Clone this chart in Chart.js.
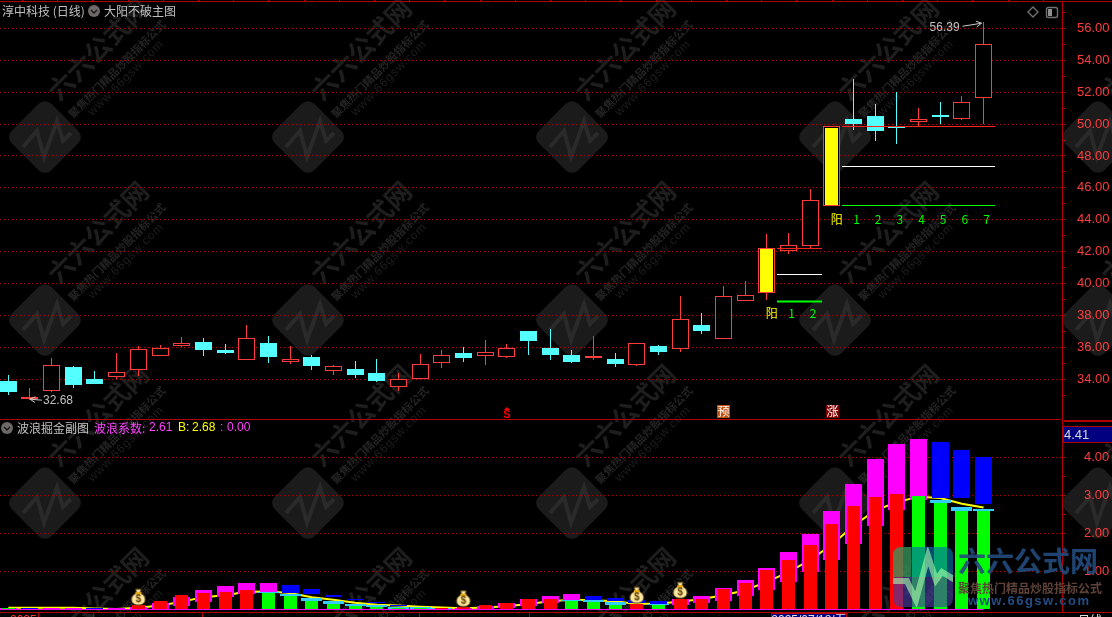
<!DOCTYPE html>
<html>
<head>
<meta charset="utf-8">
<title>淳中科技 (日线)</title>
<script src="https://cdn.jsdelivr.net/npm/chart.js@4"></script>
<style>
  html, body { margin: 0; background: #000; overflow: hidden; }
  canvas { display: block; }
</style>
</head>
<body>
<canvas id="chart" width="1112" height="617"></canvas>
<script>
// daily candles, left to right
const opens = [33.88,32.75,33.27,34.76,34.01,34.15,34.6,35.48,36.1,36.34,35.83,35.22,36.27,35.1,35.39,34.53,34.64,34.39,33.51,33.99,35.04,35.64,35.48,35.41,37.03,35.96,35.52,35.33,35.27,34.91,36.08,35.92,37.4,36.55,38.92,39.42,42.05,42.37,44.88,50.35,50.5,49.83,50.15,50.56,50.33,51.65];
const highs = [34.26,33.42,35.33,34.83,34.51,35.64,36.06,36.15,36.65,36.59,36.21,37.4,36.71,36.08,35.52,34.89,35.14,35.27,34.39,35.58,35.83,36.02,36.46,36.21,37.03,37.15,35.83,36.71,35.64,36.25,36.15,39.23,38.16,39.86,40.15,43.1,43.14,45.92,49.85,52.82,51.25,52,51,51.38,51.76,56.39];
const lows = [33,32.68,33.21,33.46,33.69,34.03,34.22,35.48,36.04,35.48,35.58,35.22,35.01,34.95,34.57,34.26,34.07,33.82,33.25,33.99,34.7,35.08,34.89,35.33,35.52,35.2,35.01,35.2,34.76,34.83,35.52,35.71,36.84,36.55,38.92,38.96,41.85,42.14,44.88,49.62,48.93,48.75,49.85,50,50.25,50];
const closes = [33.21,32.88,34.87,33.63,33.69,34.43,35.87,35.94,36.25,35.83,35.64,36.57,35.39,35.25,34.83,34.8,34.26,33.88,33.99,34.95,35.5,35.33,35.69,35.94,36.4,35.52,35.08,35.45,34.95,36.25,35.71,37.76,37.03,39.21,39.25,42.2,42.39,45.27,49.85,50,49.58,49.75,50.35,50.44,51.36,55];

// big sun candles (inner fill) and their support levels
const sunIdx = [35, 38];
const sunLo = [39.45, 44.94];
const sunHi = [42.15, 49.78];
const levelFrom = [35.47, 38.47];
const levelTo = [37.55, 45.53];
const levelTop = [42.2, 49.85];
const levelMid = [40.57, 47.34];
const levelLow = [38.9, 44.9];

// count labels under the sun candles
const countIdx = [35,36,37,38,39,40,41,42,43,44,45];
const countText = ['阳','1','2','阳','1','2','3','4','5','6','7'];
const countPrice = [38.15,38.15,38.15,44.05,44.05,44.05,44.05,44.05,44.05,44.05,44.05];

// high / low notes
const noteIdx = [45, 1];
const noteVal = [56.39, 32.68];

// signal stamps along the bottom of the price pane
const stampIdx = [23, 33, 38];
const stampText = ['S', '预', '涨'];

// wave indicator panel
const waveBar = [0.03,0,0,0,0,0,0.105,0.21,0.37,0.43,0.45,0.5,0.43,0.34,0.22,0.13,0.08,0.06,0.02,0.01,0.01,0.05,0.105,0.16,0.26,0.26,0.22,0.18,0.105,0.13,0.105,0.26,0.26,0.53,0.69,1.03,1.29,1.68,2.24,2.71,2.95,3.03,2.97,2.79,2.59,2.58];
const wideLo = [0,0,0,0,0,0,0,0.02,0.08,0.19,0.32,0.39,0.45,0.44,0.39,0.32,0.24,0.16,0.1,0.03,0.02,0,0,0.035,0.09,0.16,0.24,0.24,0.21,0.16,0.13,0.105,0.16,0.23,0.34,0.5,0.71,0.97,1.29,1.71,2.18,2.61,2.87,2.92,2.92,2.76];
const wideHi = [0.02,0.015,0.015,0.015,0.01,0.02,0.07,0.17,0.33,0.5,0.61,0.68,0.68,0.63,0.53,0.37,0.26,0.18,0.12,0.05,0.03,0.04,0.1,0.16,0.26,0.34,0.39,0.34,0.29,0.24,0.21,0.26,0.34,0.55,0.76,1.1,1.5,1.97,2.58,3.29,3.95,4.34,4.47,4.39,4.18,4];
const capIdx = [12,13,14,15,16,17,18,19,20,26,27,28,30,43,44,45];
const capLo = [0.43,0.34,0.22,0.13,0.08,0.06,0.02,0.01,0.01,0.22,0.18,0.105,0.105,2.79,2.58,2.58];
const capHi = [0.45,0.39,0.29,0.21,0.13,0.11,0.07,0.05,0.03,0.24,0.24,0.18,0.13,2.87,2.68,2.63];
const lineB = [0.04,0.04,0.04,0.04,0.02,0.01,0.04,0.1,0.2,0.32,0.37,0.46,0.47,0.43,0.32,0.25,0.17,0.12,0.1,0.07,0.05,0.03,0.05,0.08,0.14,0.21,0.25,0.24,0.21,0.14,0.15,0.2,0.27,0.37,0.5,0.72,0.98,1.3,1.7,2.2,2.6,2.82,2.96,2.93,2.78,2.68];
const bagIdx = [6, 21, 29, 31];
const bagVal = [0.32, 0.28, 0.37, 0.5];

const idx = opens.map((_, i) => i);
const RED = '#ff3c3c';
const CYAN = '#54ffff';
const DARKRED = '#b00000';
const UI = '"Liberation Sans", "Noto Sans CJK SC", sans-serif';
const CJK = '"Noto Sans CJK SC", "Liberation Sans", sans-serif';

function bars(values, lo, hi) {
  return values.map((x, i) => ({ x: x, y: [lo[i], hi[i]] }));
}

function moneyBag() {
  const c = document.createElement('canvas');
  c.width = 16; c.height = 18;
  const g = c.getContext('2d');
  g.fillStyle = '#ffe9a0'; g.strokeStyle = '#4a3a10'; g.lineWidth = 1;
  g.beginPath();
  g.moveTo(5, 1); g.lineTo(11, 1); g.lineTo(9.5, 5);
  g.bezierCurveTo(17, 7, 17, 17, 8, 17);
  g.bezierCurveTo(-1, 17, -1, 7, 6.5, 5);
  g.closePath(); g.fill(); g.stroke();
  g.fillStyle = '#e8a800'; g.fillRect(5, 4, 6, 2);
  g.fillStyle = '#5a3c00'; g.font = 'bold 10px ' + UI;
  g.textAlign = 'center'; g.textBaseline = 'middle';
  g.fillText('$', 8, 11.5);
  return c;
}

function tile(ctx, cx, cy) {
  ctx.save();
  ctx.translate(cx, cy);
  ctx.rotate(-Math.PI / 4);
  ctx.fillStyle = '#1b1b1b';
  ctx.beginPath();
  ctx.roundRect(-28, -28, 56, 56, 9);
  ctx.fill();
  ctx.rotate(Math.PI / 4);
  ctx.strokeStyle = '#2a2a2a';
  ctx.lineWidth = 4;
  ctx.beginPath();
  ctx.moveTo(-22, 10); ctx.lineTo(-8, -6); ctx.lineTo(-1, 20);
  ctx.lineTo(12, -16); ctx.lineTo(18, 4); ctx.lineTo(26, -4);
  ctx.stroke();
  ctx.restore();

  const rotText = (text, dx, dy, font, color, spacing) => {
    ctx.save();
    ctx.translate(cx + dx, cy + dy);
    ctx.rotate(-Math.PI / 4);
    ctx.font = font;
    ctx.fillStyle = color;
    ctx.textAlign = 'center';
    ctx.textBaseline = 'middle';
    ctx.letterSpacing = spacing || '0px';
    ctx.fillText(text, 0, 0);
    ctx.restore();
  };
  rotText('六六公式网', 53, -88, 'bold 26px ' + CJK, '#1e1e1e');
  rotText('聚焦热门精品炒股指标公式', 72, -68, 'bold 11px ' + CJK, '#242424');
  rotText('www.66gsw.com', 81, -59, '12px ' + UI, '#1e1e1e', '1px');
}

// keep marks on whole pixels, the original terminal draws without smoothing
const snapPlugin = {
  id: 'snap',
  afterDatasetsUpdate(chart) {
    chart.data.datasets.forEach((ds, d) => {
      const meta = chart.getDatasetMeta(d);
      meta.data.forEach(el => {
        if (meta.type === 'bar') {
          el.x = Math.floor(el.x) + 0.5;
          if (el.y !== el.base) {
            let top = Math.round(el.y);
            const base = Math.round(el.base);
            if (top === base) top = base - 1;
            el.y = top;
            el.base = base;
          }
        } else if (ds.snapY) {
          el.y = Math.floor(el.y) + 0.5;
        }
      });
    });
  }
};

const backdropPlugin = {
  id: 'backdrop',
  beforeDraw(chart) {
    const ctx = chart.ctx;
    [45, 308, 572, 835, 1098].forEach(x => {
      [137, 320, 503, 686].forEach(y => tile(ctx, x, y));
    });
  }
};

function text(ctx, str, x, y, color, font, align) {
  ctx.font = font;
  ctx.fillStyle = color;
  ctx.textAlign = align || 'left';
  ctx.textBaseline = 'middle';
  ctx.fillText(str, x, y);
}

function arrow(ctx, x1, y1, x2, y2) {
  const a = Math.atan2(y2 - y1, x2 - x1);
  ctx.strokeStyle = '#c8c8c8';
  ctx.lineWidth = 1;
  ctx.beginPath();
  ctx.moveTo(x1, y1); ctx.lineTo(x2, y2);
  ctx.moveTo(x2 - 6 * Math.cos(a - 0.5), y2 - 6 * Math.sin(a - 0.5));
  ctx.lineTo(x2, y2);
  ctx.lineTo(x2 - 6 * Math.cos(a + 0.5), y2 - 6 * Math.sin(a + 0.5));
  ctx.stroke();
}

function circleIcon(ctx, x, y) {
  ctx.fillStyle = '#6e6868';
  ctx.beginPath(); ctx.arc(x, y, 6, 0, Math.PI * 2); ctx.fill();
  ctx.strokeStyle = '#181818';
  ctx.lineWidth = 1.4;
  ctx.beginPath(); ctx.moveTo(x - 3, y - 1); ctx.lineTo(x, y + 2); ctx.lineTo(x + 3, y - 1); ctx.stroke();
}

const overlayPlugin = {
  id: 'overlay',
  afterDraw(chart) {
    const ctx = chart.ctx;
    const sx = chart.scales.x, sy = chart.scales.y;
    ctx.save();

    // frame
    ctx.fillStyle = DARKRED;
    ctx.fillRect(0, 1, 1112, 1);
    ctx.fillRect(0, 419, 1061, 1);
    ctx.fillRect(0, 612, 1112, 1);
    ctx.fillRect(1064, 420, 48, 2);
    for (let x = 22; x < 1061; x += 35.2) ctx.fillRect(Math.round(x), 0, 1, 1);
    ctx.fillStyle = '#000080';
    ctx.fillRect(1063, 427, 49, 15);
    ctx.strokeStyle = DARKRED;
    ctx.lineWidth = 1;
    ctx.strokeRect(1063.5, 426.5, 49, 16);
    text(ctx, '4.41', 1064, 435, '#d8d8d8', '13px ' + UI);

    // titles
    const cjk12 = '12px ' + CJK;
    const num12 = '12px ' + UI;
    text(ctx, '淳中科技 (日线)', 2, 11, '#c0c0c0', cjk12);
    circleIcon(ctx, 94, 11);
    text(ctx, '大阳不破主图', 104, 11, '#c0c0c0', cjk12);
    circleIcon(ctx, 7, 428);
    text(ctx, '波浪掘金副图', 17, 428, '#c0c0c0', cjk12);
    text(ctx, '波浪系数:', 94, 428, '#ff40ff', cjk12);
    text(ctx, '2.61', 149, 428, '#ff40ff', num12);
    text(ctx, 'B:', 178, 428, '#ffff00', num12);
    text(ctx, '2.68', 192, 428, '#ffff00', num12);
    text(ctx, ':', 220, 428, '#ff40ff', num12);
    text(ctx, '0.00', 227, 428, '#ff40ff', num12);

    // top right buttons
    ctx.strokeStyle = '#707070';
    ctx.beginPath();
    ctx.moveTo(1033, 7); ctx.lineTo(1038, 12); ctx.lineTo(1033, 17); ctx.lineTo(1028, 12); ctx.closePath();
    ctx.stroke();
    ctx.beginPath(); ctx.roundRect(1046.5, 7.5, 11, 10, 2); ctx.stroke();
    ctx.fillStyle = '#909090';
    ctx.fillRect(1048, 9, 4, 7);

    // high / low notes
    noteIdx.forEach((n, i) => {
      const x = sx.getPixelForValue(n), y = sy.getPixelForValue(noteVal[i]);
      if (i === 0) {
        text(ctx, noteVal[i].toFixed(2), x - 54, y + 5, '#c0c0c0', num12);
        arrow(ctx, x - 21, y + 4, x - 2, y + 1);
      } else {
        text(ctx, noteVal[i].toFixed(2), x + 13, y, '#c0c0c0', num12);
        arrow(ctx, x + 12, y, x, y - 1);
      }
    });

    // counts under the sun candles
    countIdx.forEach((n, i) => {
      const isSun = countText[i] === '阳';
      text(ctx, countText[i], sx.getPixelForValue(n) + (isSun ? 5 : 3), sy.getPixelForValue(countPrice[i]),
        isSun ? '#ffff00' : '#00ff00', cjk12, 'center');
    });

    // stamps
    stampIdx.forEach((n, i) => {
      const x = Math.round(sx.getPixelForValue(n));
      if (stampText[i] === 'S') {
        ctx.fillStyle = '#ff0000';
        ctx.beginPath(); ctx.moveTo(x - 3, 410); ctx.lineTo(x, 407); ctx.lineTo(x + 3, 410); ctx.fill();
        text(ctx, 'S', x, 414.5, '#ff0000', 'bold 11px ' + UI, 'center');
      } else {
        ctx.fillStyle = stampText[i] === '预' ? '#c05010' : '#800000';
        ctx.fillRect(x - 6, 405, 13, 13);
        text(ctx, stampText[i], x + 0.5, 411.5, '#ffffff', cjk12, 'center');
      }
    });

    // cursor date and axis row, cut off by the window edge
    ctx.fillStyle = '#000080';
    ctx.fillRect(771, 613, 76, 4);
    ctx.strokeStyle = '#c00000';
    ctx.strokeRect(771.5, 613.5, 75, 5);
    ctx.textBaseline = 'top';
    ctx.font = num12; ctx.textAlign = 'center';
    ctx.fillStyle = '#e0e0e0';
    ctx.fillText('2025/07/18/五', 809, 615);
    ctx.textAlign = 'left';
    ctx.font = cjk12;
    ctx.fillText('日线', 1078, 614);
    ctx.fillStyle = RED;
    ctx.font = num12;
    ctx.fillText('2025', 10, 615);
    ctx.fillStyle = DARKRED;
    [38, 93, 202, 419, 529].forEach(x => ctx.fillRect(x, 613, 1, 4));

    // site logo, bottom right
    ctx.save();
    ctx.beginPath();
    ctx.roundRect(893, 547, 60, 60, 8);
    ctx.clip();
    ctx.fillStyle = 'rgba(0,110,170,0.65)';
    ctx.fillRect(893, 547, 60, 30);
    ctx.fillStyle = 'rgba(70,60,160,0.65)';
    ctx.fillRect(893, 577, 60, 30);
    ctx.fillStyle = 'rgba(120,200,0,0.35)';
    ctx.fillRect(893, 547, 18, 30);
    ctx.strokeStyle = 'rgba(170,255,170,0.6)';
    ctx.lineWidth = 6;
    ctx.beginPath();
    ctx.moveTo(890, 581); ctx.lineTo(907, 581); ctx.lineTo(916, 600); ctx.lineTo(928, 556);
    ctx.lineTo(936, 580); ctx.lineTo(942, 572); ctx.lineTo(955, 580);
    ctx.stroke();
    ctx.restore();
    text(ctx, '六六公式网', 958, 561, 'rgba(35,75,125,0.9)', 'bold 28px ' + CJK);
    text(ctx, '聚焦热门精品炒股指标公式', 958, 588, '#5e4238', 'bold 12px ' + CJK);
    ctx.letterSpacing = '1.5px';
    text(ctx, 'www.66gsw.com', 968, 601, '#254c85', 'bold 13px ' + UI);
    ctx.letterSpacing = '0px';
    ctx.restore();
  }
};

const zeroLine = idx.map(i => ({ x: i, y: 0 }));
zeroLine.unshift({ x: -0.4, y: 0 });

// non grouped bars sit exactly on their x value, maxBarThickness sets the width
function barSet(width, extra) {
  return Object.assign({
    type: 'bar', grouped: false, inflateAmount: 0, borderWidth: 0,
    barThickness: width, maxBarThickness: width
  }, extra);
}
const flatLine = {
  type: 'line', pointRadius: 0, borderWidth: 1, tension: 0, snapY: true, yAxisID: 'y'
};
function levelSet(values, color, order, firstWidth) {
  return values.map((v, i) => Object.assign({}, flatLine, {
    data: [{ x: levelFrom[i], y: v }, { x: levelTo[i], y: v }],
    borderColor: color, order: order,
    borderWidth: i === 0 && firstWidth ? firstWidth : 1
  }));
}

new Chart(document.getElementById('chart'), {
  type: 'bar',
  data: {
    datasets: [
      // price pane
      barSet(1, {
        data: bars(idx, lows, highs), yAxisID: 'y', order: 20,
        backgroundColor: idx.map(i => closes[i] >= opens[i] ? RED : CYAN)
      }),
      barSet(17, {
        borderSkipped: false, borderWidth: 1,
        data: idx.map(i => ({ x: i, y: [Math.min(opens[i], closes[i]), Math.max(opens[i], closes[i])] })),
        yAxisID: 'y', order: 19,
        backgroundColor: idx.map(i => closes[i] >= opens[i] ? '#000000' : CYAN),
        borderColor: idx.map(i => closes[i] >= opens[i] ? RED : CYAN)
      }),
      barSet(13, {
        data: bars(sunIdx, sunLo, sunHi), yAxisID: 'y', order: 18,
        backgroundColor: '#ffff00'
      }),
      ...levelSet(levelTop, '#ff2020', 17),
      ...levelSet(levelMid, '#ffffff', 17),
      ...levelSet(levelLow, '#00ff00', 17, 2),

      // wave pane
      {
        type: 'line', data: idx.map(i => ({ x: i, y: lineB[i] })), yAxisID: 'y2',
        borderColor: '#ffff00', borderWidth: 2, pointRadius: 0, tension: 0, order: 16
      },
      barSet(17, {
        data: bars(idx, wideLo, wideHi), yAxisID: 'y2', order: 15,
        backgroundColor: idx.map(i => i === 0 || wideHi[i] >= wideHi[i - 1] ? '#ff00ff' : '#0000ff')
      }),
      barSet(21, {
        data: bars(capIdx, capLo, capHi), yAxisID: 'y2', order: 14,
        backgroundColor: '#33ccff'
      }),
      barSet(13, {
        data: idx.map(i => ({ x: i, y: waveBar[i] })), yAxisID: 'y2', order: 13,
        backgroundColor: idx.map(i => i > 0 && waveBar[i] >= waveBar[i - 1] ? '#ff0000' : '#00ff00')
      }),
      {
        type: 'line', data: zeroLine, yAxisID: 'y2', borderColor: '#ff00ff', borderWidth: 1,
        pointRadius: 0, tension: 0, snapY: true, order: 12
      },
      {
        type: 'line', data: bagIdx.map((x, i) => ({ x: x, y: bagVal[i] })), yAxisID: 'y2',
        showLine: false, pointStyle: moneyBag(), pointRadius: 8, order: 11
      }
    ]
  },
  options: {
    responsive: false,
    animation: false,
    events: [],
    layout: { autoPadding: false, padding: { top: 2, bottom: 5, left: 0, right: 0 } },
    plugins: { legend: { display: false }, tooltip: { enabled: false } },
    scales: {
      x: { type: 'linear', display: false, offset: false, min: -0.383, max: 48.62 },
      y: {
        position: 'right', stack: 'panes', stackWeight: 417, min: 31.5, max: 57.66,
        afterFit(s) { s.width = 50; s.paddingTop = 0; s.paddingBottom = 0; },
        afterBuildTicks(s) { s.ticks = s.ticks.filter(t => t.value >= 33); },
        border: { color: DARKRED, dash: [1, 3] },
        grid: {
          color: c => c.tick && c.tick.value % 2 === 0 ? DARKRED : 'rgba(0,0,0,0)',
          tickColor: DARKRED, tickLength: 4
        },
        ticks: {
          stepSize: 1, autoSkip: false, includeBounds: false, padding: 11, color: RED,
          font: { family: UI, size: 13 },
          callback: v => v % 2 === 0 ? v.toFixed(2) : ''
        }
      },
      y2: {
        position: 'right', stack: 'panes', stackWeight: 193, min: -0.071, max: 5.008,
        afterFit(s) { s.width = 50; s.paddingTop = 0; s.paddingBottom = 0; },
        afterBuildTicks(s) { s.ticks = s.ticks.filter(t => t.value >= 0.5 && t.value <= 4); },
        border: { color: DARKRED, dash: [1, 3] },
        grid: {
          color: c => c.tick && c.tick.value % 1 === 0 ? DARKRED : 'rgba(0,0,0,0)',
          tickColor: DARKRED, tickLength: 4
        },
        ticks: {
          stepSize: 0.5, autoSkip: false, includeBounds: false, padding: 18, color: RED,
          font: { family: UI, size: 13 },
          callback: v => v % 1 === 0 ? v.toFixed(2) : ''
        }
      }
    }
  },
  plugins: [backdropPlugin, snapPlugin, overlayPlugin]
});
</script>
</body>
</html>
